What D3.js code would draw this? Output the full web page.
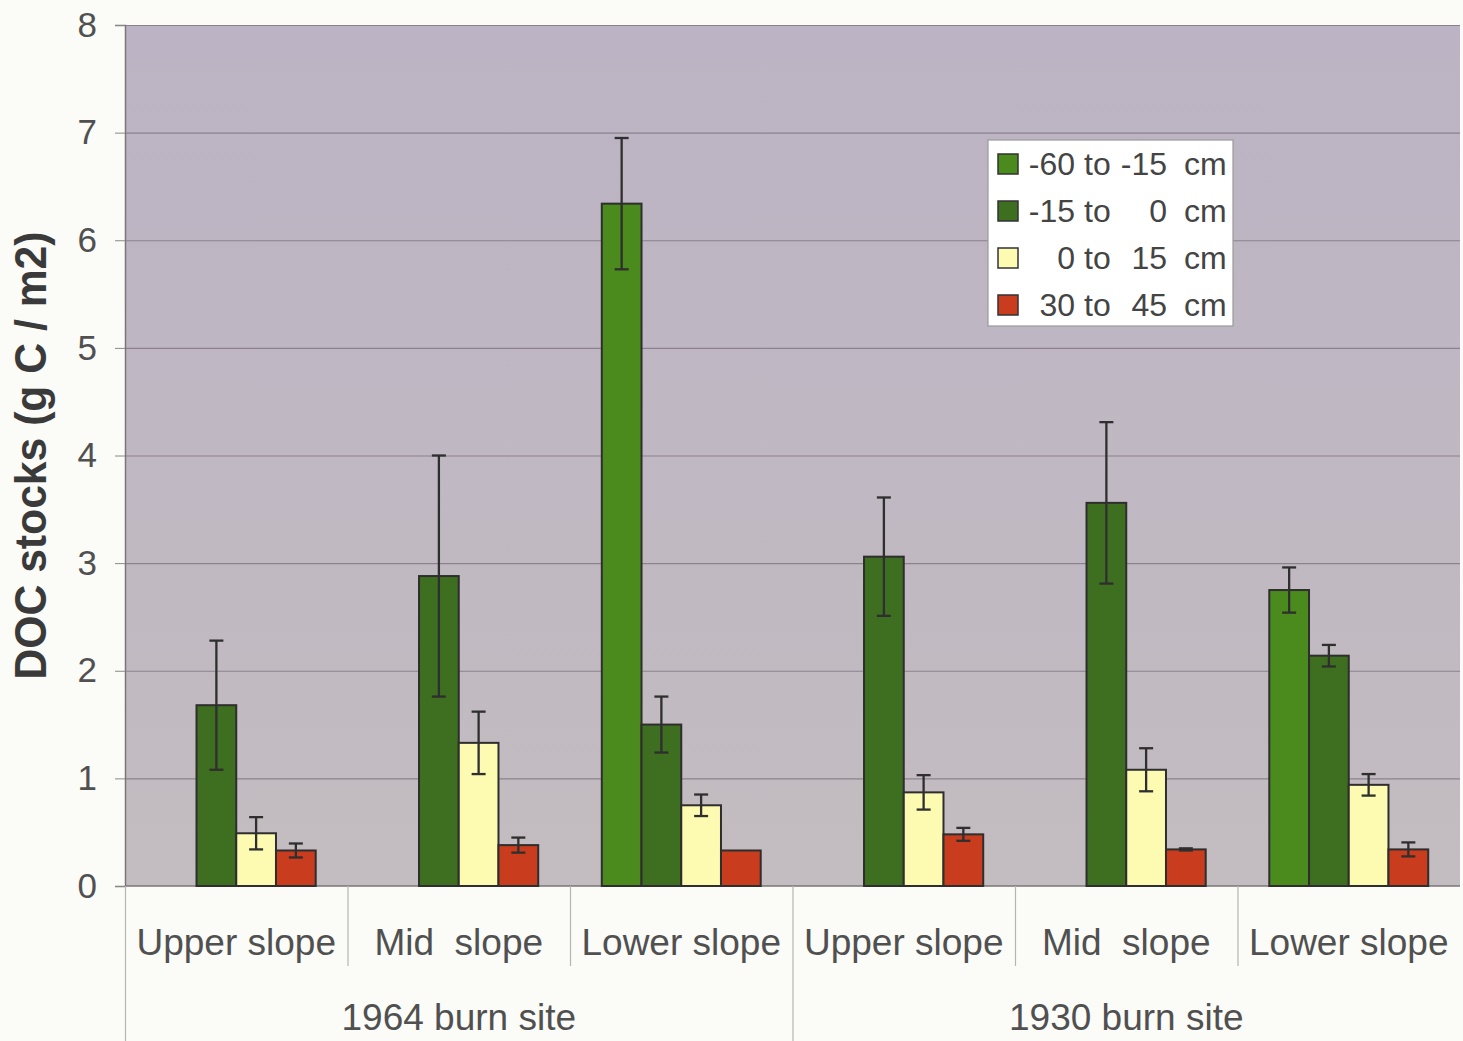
<!DOCTYPE html>
<html>
<head>
<meta charset="utf-8">
<script src="https://cdn.jsdelivr.net/npm/d3@7"></script>
<style>
  body { margin: 0; background: #fbfbf7; }
  svg { display: block; font-family: "Liberation Sans", Arial, sans-serif; }
</style>
</head>
<body>
<div id="chart"></div>
<script>
// --------------------------------------
//  Data
// --------------------------------------

const positions = ["Upper slope", "Mid  slope", "Lower slope", "Upper slope", "Mid  slope", "Lower slope"];
const sites = ["1964 burn site", "1930 burn site"];
const depths = ["-60 to -15 cm", "-15 to 0 cm", "0 to 15 cm", "30 to 45 cm"];

// mean DOC stocks per depth, one value per position (null = not sampled)
const deep60 = [null, null, 6.34, null, null, 2.75];
const deep15 = [1.68, 2.88, 1.50, 3.06, 3.56, 2.14];
const top15  = [0.49, 1.33, 0.75, 0.87, 1.08, 0.94];
const deep45 = [0.33, 0.38, 0.33, 0.48, 0.34, 0.34];

// error bar half-widths
const err60 = [null, null, 0.61, null, null, 0.21];
const err15 = [0.60, 1.12, 0.26, 0.55, 0.75, 0.10];
const errTop = [0.15, 0.29, 0.10, 0.16, 0.20, 0.10];
const err45 = [0.065, 0.07, 0, 0.06, 0.01, 0.065];

const yTicks = [0, 1, 2, 3, 4, 5, 6, 7, 8];

// legend label pieces: first number, second number
const legendParts = [["-60", "-15"], ["-15", "0"], ["0", "15"], ["30", "45"]];

// --------------------------------------
//  Margin and canvas
// --------------------------------------

const width = 1463;
const height = 1041;
const margin = {top: 25, right: 3, bottom: 155, left: 125};
const innerwidth = width - margin.left - margin.right;
const innerheight = height - margin.top - margin.bottom;

const svg = d3.select("#chart")
  .append("svg")
    .attr("width", width)
    .attr("height", height)
    .attr("viewBox", `0, 0, ${width}, ${height}`);

const defs = svg.append("defs");
const grad = defs.append("linearGradient")
    .attr("id", "bg")
    .attr("x1", 0).attr("y1", 0).attr("x2", 0).attr("y2", 1);
grad.append("stop").attr("offset", "0%").attr("stop-color", "#bcb3c4");
grad.append("stop").attr("offset", "100%").attr("stop-color", "#c3bcc0");

const inner = svg.append("g")
    .attr("transform", `translate(${margin.left}, ${margin.top})`);

// --------------------------------------
//  Table built from the arrays
// --------------------------------------

const seriesVals = [deep60, deep15, top15, deep45];
const seriesErr = [err60, err15, errTop, err45];
const colors = ["#4b8a1c", "#3e6e20", "#fdfab2", "#c93c1d"];

const bars = [];
positions.forEach((p, i) => {
  depths.forEach((dp, j) => {
    if (seriesVals[j][i] != null) {
      bars.push({pos: i, depth: dp, value: seriesVals[j][i], err: seriesErr[j][i]});
    }
  });
});

// --------------------------------------
//  Scales
// --------------------------------------

const x0 = d3.scaleBand()
    .domain(d3.range(positions.length))
    .range([0, innerwidth]);

const x1 = d3.scaleBand()
    .domain(depths)
    .range([0, x0.bandwidth()])
    .paddingOuter(0.8);

const y = d3.scaleLinear()
    .domain([0, 8])
    .range([innerheight, 0]);

const c = d3.scaleOrdinal()
    .domain(depths)
    .range(colors);

// --------------------------------------
//  Background and grid
// --------------------------------------

inner.append("rect")
    .attr("x", 0)
    .attr("y", 0)
    .attr("width", innerwidth)
    .attr("height", innerheight)
    .attr("fill", "url(#bg)");

inner.append("g")
    .selectAll("line")
    .data(yTicks.filter(d => d > 0))
    .join("line")
    .attr("x1", 0)
    .attr("x2", innerwidth)
    .attr("y1", d => y(d) + 0.5)
    .attr("y2", d => y(d) + 0.5)
    .attr("stroke", "#8c828e")
    .attr("stroke-width", 1.2);

// --------------------------------------
//  Axes
// --------------------------------------

const yAxis = inner.append("g")
    .attr("class", "y-axis")
    .call(d3.axisLeft(y)
        .tickValues(yTicks)
        .tickSize(10)
        .tickPadding(18));

yAxis.select(".domain").attr("stroke", "#777").attr("stroke-width", 1.5);
yAxis.selectAll(".tick line").attr("stroke", "#888");
yAxis.selectAll(".tick text")
    .attr("font-size", 35)
    .attr("fill", "#505050")
    .attr("font-family", "Liberation Sans, Arial, sans-serif");

inner.append("line")
    .attr("x1", 0).attr("x2", innerwidth)
    .attr("y1", innerheight).attr("y2", innerheight)
    .attr("stroke", "#777")
    .attr("stroke-width", 1.5);

svg.append("text")
    .attr("transform", `translate(46, ${margin.top + innerheight / 2}) rotate(-90)`)
    .attr("text-anchor", "middle")
    .attr("font-size", 44)
    .attr("font-weight", "bold")
    .attr("fill", "#3a3a3a")
    .attr("textLength", 448)
    .attr("lengthAdjust", "spacingAndGlyphs")
    .text("DOC stocks (g C / m2)");

// category separators
const sepGroup = inner.append("g");
d3.range(positions.length).forEach(i => {
  const full = (i % 3 === 0);
  sepGroup.append("line")
      .attr("x1", x0(i) + 0.5).attr("x2", x0(i) + 0.5)
      .attr("y1", innerheight)
      .attr("y2", full ? height - margin.top : innerheight + 80)
      .attr("stroke", "#b5b5b5")
      .attr("stroke-width", 1.2);
});

inner.append("g")
    .selectAll("text")
    .data(positions)
    .join("text")
    .attr("x", (d, i) => x0(i) + x0.bandwidth() / 2)
    .attr("y", innerheight + 69)
    .attr("text-anchor", "middle")
    .attr("font-size", 37)
    .attr("fill", "#505050")
    .style("white-space", "pre")
    .text(d => d);

inner.append("g")
    .selectAll("text")
    .data(sites)
    .join("text")
    .attr("x", (d, i) => x0(i * 3) + x0.bandwidth() * 1.5)
    .attr("y", innerheight + 144)
    .attr("text-anchor", "middle")
    .attr("font-size", 37)
    .attr("fill", "#505050")
    .text(d => d);

// --------------------------------------
//  Bars and error bars
// --------------------------------------

inner.append("g")
    .selectAll("rect")
    .data(bars)
    .join("rect")
    .attr("x", d => x0(d.pos) + x1(d.depth))
    .attr("y", d => y(d.value))
    .attr("width", x1.bandwidth())
    .attr("height", d => innerheight - y(d.value))
    .attr("fill", d => c(d.depth))
    .attr("stroke", "#2e2e2e")
    .attr("stroke-width", 2);

const errG = inner.append("g")
    .selectAll("g")
    .data(bars.filter(d => d.err > 0))
    .join("g")
    .attr("stroke", "#2f2f2f")
    .attr("stroke-width", 2.3);

errG.append("line")
    .attr("x1", d => x0(d.pos) + x1(d.depth) + x1.bandwidth() / 2)
    .attr("x2", d => x0(d.pos) + x1(d.depth) + x1.bandwidth() / 2)
    .attr("y1", d => y(d.value + d.err))
    .attr("y2", d => y(d.value - d.err));

[1, -1].forEach(s => {
  errG.append("line")
      .attr("x1", d => x0(d.pos) + x1(d.depth) + x1.bandwidth() / 2 - 7)
      .attr("x2", d => x0(d.pos) + x1(d.depth) + x1.bandwidth() / 2 + 7)
      .attr("y1", d => y(d.value + s * d.err))
      .attr("y2", d => y(d.value + s * d.err));
});

// --------------------------------------
//  Legend
// --------------------------------------

const legend = svg.append("g")
    .attr("transform", "translate(988, 140)");

legend.append("rect")
    .attr("width", 245)
    .attr("height", 186)
    .attr("fill", "#ffffff")
    .attr("stroke", "#9a9a9a")
    .attr("stroke-width", 1.2);

const rows = legend.selectAll(".row")
    .data(depths)
    .join("g")
    .attr("class", "row")
    .attr("transform", (d, i) => `translate(0, ${24 + i * 47})`);

rows.append("rect")
    .attr("x", 10)
    .attr("y", -10)
    .attr("width", 20)
    .attr("height", 20)
    .attr("fill", d => c(d))
    .attr("stroke", "#333")
    .attr("stroke-width", 1.5);

const legText = (sel, x, anchor, f) => sel.append("text")
    .attr("x", x)
    .attr("y", 11)
    .attr("text-anchor", anchor)
    .attr("font-size", 32)
    .attr("fill", "#444")
    .text(f);

legText(rows, 87, "end", (d, i) => legendParts[i][0]);
legText(rows, 96, "start", "to");
legText(rows, 179, "end", (d, i) => legendParts[i][1]);
legText(rows, 196, "start", "cm");
</script>
</body>
</html>
